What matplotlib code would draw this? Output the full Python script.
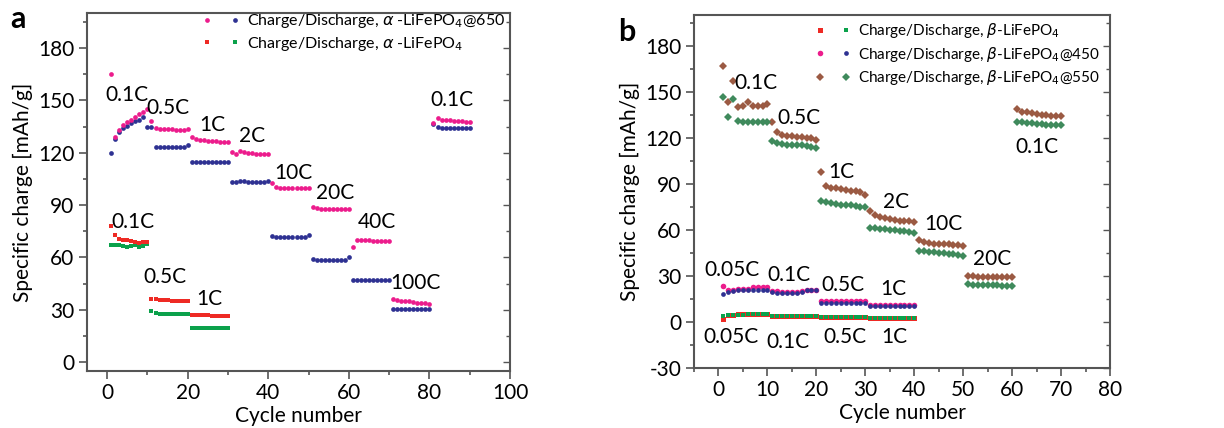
import numpy as np
import matplotlib
matplotlib.use("Agg")
import matplotlib.pyplot as plt
from matplotlib.legend_handler import HandlerTuple
from matplotlib.ticker import MultipleLocator

plt.rcParams['font.family'] = ['Lato', 'DejaVu Sans']
plt.rcParams['mathtext.fontset'] = 'dejavusans'
plt.rcParams['axes.unicode_minus'] = False

# ---- panel a: alpha-LiFePO4 ----
cyc_a650 = np.arange(1, 91)
chg_a650 = [165, 129, 133, 136, 137.5, 139, 140.5, 142, 143.5, 145,
            138, 134, 133.8, 133.6, 133.5, 133.3, 133.2, 133, 133, 133.5,
            129, 128, 127.5, 127, 126.8, 126.5, 126.5, 126.3, 126.2, 126,
            120.5, 119.5, 121, 120.5, 120, 120, 119.5, 119.3, 119, 119,
            102.5, 100.5, 100, 100, 99.8, 99.8, 99.8, 99.8, 100, 100,
            89, 88.5, 88, 88, 88, 88, 88, 88, 88, 88,
            66, 70, 70, 69.8, 69.8, 69.6, 69.6, 69.5, 69.5, 69.5,
            36, 35.5, 35.2, 35, 34.8, 34.5, 34.2, 34, 33.8, 33.5,
            137, 140, 139, 138.8, 138.5, 138.3, 138, 138, 137.8, 137.5]
dis_a650 = [120, 128, 132, 134, 135.5, 137, 138, 139, 140.5, 135,
            134.5, 123.3, 123.3, 123.3, 123.3, 123.3, 123.3, 123.3, 123.3, 124.5,
            114.5, 114.5, 114.5, 114.5, 114.5, 114.5, 114.5, 114.5, 114.5, 114.5,
            103, 103, 104, 104, 103.5, 103, 103, 103, 103.5, 104,
            72.5, 71.5, 71.5, 71.5, 71.5, 71.5, 71.5, 71.5, 71.5, 73,
            59, 58.5, 58.5, 58.5, 58.5, 58.5, 58.5, 58.5, 58.5, 60.5,
            47, 47, 47, 47, 47, 47, 47, 47, 47, 47,
            30.5, 30.5, 30.5, 30.5, 30.5, 30.5, 30.5, 30.5, 30.5, 30.5,
            136.5, 134.5, 134, 134, 134, 134, 134, 134, 134, 134]
cyc_a = np.arange(1, 31)
chg_a = [78, 73, 70.5, 70, 70, 69.5, 69, 68.5, 69, 69,
         36.5, 36, 35.8, 35.6, 35.5, 35.3, 35.2, 35, 35, 35,
         27, 27, 27, 26.8, 26.8, 26.7, 26.6, 26.5, 26.5, 26.3]
dis_a = [67, 67, 67, 66.5, 65.8, 66.5, 67, 66, 66.5, 67.5,
         29.5, 28, 27.8, 27.7, 27.6, 27.5, 27.5, 27.5, 27.5, 27.5,
         19.5, 19.5, 19.5, 19.5, 19.5, 19.5, 19.5, 19.5, 19.5, 19.5]

rates_a = ['0.1C', '0.5C', '1C', '2C', '10C', '20C', '40C', '100C', '0.1C',
           '0.1C', '0.5C', '1C']
rate_x_a = [5, 15, 26, 36, 46.3, 56.6, 67, 76.6, 85.5, 6.5, 14.3, 25.4]
rate_y_a = [153, 145.7, 136, 129.3, 108.4, 97.2, 80.6, 45.4, 150.4, 80.6, 49, 36]

# ---- panel b: beta-LiFePO4 ----
cyc_b550 = np.arange(1, 71)
chg_b550 = [167, 143.5, 157, 140, 141, 143, 140.5, 141, 140.5, 142,
            130.5, 124, 122, 121, 121, 120.5, 120.5, 120, 120, 118.5,
            97.5, 88.5, 87.5, 87, 86.5, 86, 85.5, 85, 84.5, 83,
            72, 70, 68.5, 67.5, 67, 66.5, 66, 66, 65.5, 65,
            53.5, 52, 51.5, 51, 51, 50.5, 50.5, 50, 50, 49.5,
            30, 29.8, 29.6, 29.5, 29.5, 29.4, 29.3, 29.2, 29.1, 29,
            138.5, 137, 136.5, 136, 135.5, 135, 135, 134.5, 134.5, 134.5]
dis_b550 = [146.5, 133.5, 145, 131, 130.5, 130.5, 130, 130, 130, 130,
            118, 116.5, 116, 115.5, 115.5, 115, 115, 114.5, 114, 113.5,
            78.5, 78, 77.5, 77, 76.5, 76.5, 76, 75.5, 75, 75,
            61.5, 61, 60.5, 60.5, 60, 60, 59.5, 59, 58.5, 58,
            46.5, 46, 45.5, 45.5, 45, 45, 44.5, 44, 43.5, 43,
            24.5, 24.3, 24.2, 24, 24, 23.9, 23.8, 23.7, 23.6, 23.5,
            130.5, 130, 129.8, 129.5, 129, 129, 128.5, 128.5, 128, 128]
cyc_b = np.arange(1, 41)
chg_b450 = [23.5, 21, 21, 21.5, 21.5, 21.5, 22.5, 22.5, 22.5, 22.5,
            20, 20, 19.5, 19.5, 19.5, 19.5, 20, 21, 21, 20.5,
            13.5, 13.5, 13.5, 13.5, 13.5, 13.5, 13.5, 13.5, 13.5, 13.5,
            11, 11, 11, 11, 11, 11, 11, 11, 11, 11]
dis_b450 = [18, 19.5, 20, 20.5, 20.5, 21, 21, 21, 21, 21,
            19.5, 19, 19, 19, 19, 19, 19.5, 20.5, 21, 20.5,
            12.3, 12.5, 12.5, 12.5, 12.5, 12.5, 12.5, 12.5, 12.5, 12.5,
            10.5, 10.5, 10.5, 10.5, 10.5, 10.5, 10.5, 10.5, 10.5, 10.5]
chg_b = [2, 4.5, 4.5, 5, 5, 5, 5.5, 5.5, 5.5, 5.5,
         4, 3.8, 3.8, 3.8, 3.8, 3.8, 3.8, 3.8, 3.8, 3.8,
         3.5, 3.5, 3.5, 3.5, 3.5, 3.5, 3.5, 3.5, 3.5, 3.5,
         2.8, 2.8, 2.8, 2.8, 2.8, 2.8, 2.8, 2.8, 2.8, 2.8]
dis_b = [4, 4.5, 4.5, 4.8, 4.8, 5, 5, 5, 5, 5,
         4, 3.8, 3.8, 3.8, 3.8, 3.8, 3.8, 3.8, 3.8, 3.8,
         3.5, 3.5, 3.5, 3.5, 3.5, 3.5, 3.5, 3.5, 3.5, 3.5,
         2.8, 2.8, 2.8, 2.8, 2.8, 2.8, 2.8, 2.8, 2.8, 2.8]

rates_b = ['0.1C', '0.5C', '1C', '2C', '10C', '20C', '0.1C',
           '0.05C', '0.1C', '0.5C', '1C', '0.05C', '0.1C', '0.5C', '1C']
rate_x_b = [7.7, 16.4, 25, 36.3, 46, 56, 65, 2.8, 14.4, 25.4, 35.7, 2.6, 14.2, 25.8, 36]
rate_y_b = [155.8, 133, 97.6, 78, 64.1, 41.3, 114.2, 33.6, 30.3, 23.8, 21.6,
            -10, -13.3, -10, -10]

MAG, NAV, RED, GRN = '#EC1C8C', '#2E3192', '#EE2A24', '#0BA14B'
BRN, DGR = '#9B5A43', '#3F8A5C'
AXC = '#555555'

fig = plt.figure(figsize=(12.24, 4.28), dpi=100)
ax1 = fig.add_axes([0.0711, 0.1332, 0.3456, 0.8364])
ax2 = fig.add_axes([0.567, 0.1402, 0.3399, 0.8248])


def style(ax):
    for s in ax.spines.values():
        s.set_color(AXC)
        s.set_linewidth(1.5)
    ax.tick_params(which='both', direction='out', color=AXC, width=1.2,
                   labelsize=15, pad=3)
    ax.tick_params(which='major', length=6)
    ax.tick_params(which='minor', length=3)
    ax.set_xlabel('Cycle number', fontsize=15, labelpad=2)
    ax.set_ylabel('Specific charge [mAh/g]', fontsize=15, labelpad=4)
    # inward ticks on the right side only, no labels
    sec = ax.secondary_yaxis('right')
    sec.set_yticks(ax.get_yticks())
    sec.yaxis.set_minor_locator(MultipleLocator(15))
    sec.tick_params(which='both', direction='in', color=AXC, width=1.0,
                    labelright=False)
    sec.tick_params(which='major', length=5)
    sec.tick_params(which='minor', length=3)
    sec.spines['right'].set_visible(False)


# panel a
h_nav, = ax1.plot(cyc_a650, dis_a650, 'o', color=NAV, ms=3.4, mew=0)
h_mag, = ax1.plot(cyc_a650, chg_a650, 'o', color=MAG, ms=3.4, mew=0)
h_grn, = ax1.plot(cyc_a, dis_a, 's', color=GRN, ms=3.0, mew=0)
h_red, = ax1.plot(cyc_a, chg_a, 's', color=RED, ms=3.0, mew=0)
for t, x, y in zip(rates_a, rate_x_a, rate_y_a):
    ax1.text(x, y, t, fontsize=15, ha='center', va='center')
ax1.set_xlim(-5, 100)
ax1.set_ylim(-5, 200)
ax1.xaxis.set_major_locator(MultipleLocator(20))
ax1.xaxis.set_minor_locator(MultipleLocator(10))
ax1.set_yticks(np.arange(0, 181, 30))
ax1.yaxis.set_minor_locator(MultipleLocator(15))
style(ax1)
ax1.set_ylim(-5, 200)
ax1.legend([(h_mag, h_nav), (h_red, h_grn)],
           [r'Charge/Discharge, $\alpha$ -LiFePO$_4$@650',
            r'Charge/Discharge, $\alpha$ -LiFePO$_4$'],
           handler_map={tuple: HandlerTuple(ndivide=None, pad=1.2)},
           loc='upper left', bbox_to_anchor=(0.26, 1.02), frameon=False,
           fontsize=11.5, handlelength=2.2, handletextpad=0.5,
           labelspacing=0.3, borderaxespad=0)

# panel b
ax2.plot(cyc_b, chg_b, 's', color=RED, ms=3.6, mew=0)
h_bg, = ax2.plot(cyc_b, dis_b, 's', color=GRN, ms=3.0, mew=0)
h_bm, = ax2.plot(cyc_b, chg_b450, 'o', color=MAG, ms=4, mew=0)
h_bn, = ax2.plot(cyc_b, dis_b450, 'o', color=NAV, ms=3.4, mew=0)
h_br, = ax2.plot(cyc_b550, chg_b550, 'D', color=BRN, ms=4.2, mew=0)
h_dg, = ax2.plot(cyc_b550, dis_b550, 'D', color=DGR, ms=4.2, mew=0)
h_rl, = ax2.plot([], [], 's', color=RED, ms=3.6, mew=0)
for t, x, y in zip(rates_b, rate_x_b, rate_y_b):
    ax2.text(x, y, t, fontsize=15, ha='center', va='center')
ax2.set_xlim(-5, 80)
ax2.set_ylim(-30, 200)
ax2.xaxis.set_major_locator(MultipleLocator(10))
ax2.xaxis.set_minor_locator(MultipleLocator(5))
ax2.set_yticks(np.arange(-30, 181, 30))
ax2.yaxis.set_minor_locator(MultipleLocator(15))
style(ax2)
ax2.set_ylim(-30, 200)
ax2.legend([(h_rl, h_bg), (h_bm, h_bn), (h_br, h_dg)],
           [r'Charge/Discharge, $\beta$-LiFePO$_4$',
            r'Charge/Discharge, $\beta$-LiFePO$_4$@450',
            r'Charge/Discharge, $\beta$-LiFePO$_4$@550'],
           handler_map={tuple: HandlerTuple(ndivide=None, pad=1.2)},
           loc='upper left', bbox_to_anchor=(0.28, 1.0), frameon=False,
           fontsize=11, handlelength=2.2, handletextpad=0.5,
           labelspacing=0.3, borderaxespad=0)

fig.text(0.008, 0.955, 'a', fontsize=22, fontweight='bold', va='center')
fig.text(0.505, 0.925, 'b', fontsize=22, fontweight='bold', va='center')

fig.savefig('out.png', dpi=100)
